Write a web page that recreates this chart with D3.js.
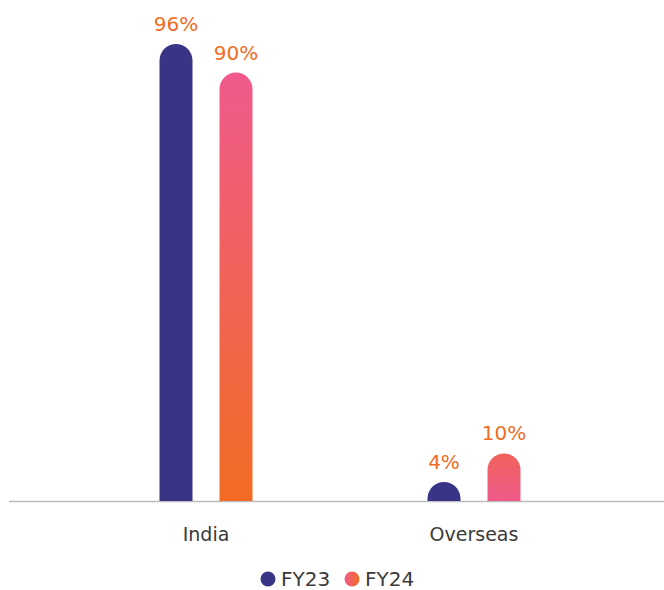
<!DOCTYPE html>
<html>
<head>
<meta charset="utf-8">
<script src="https://cdn.jsdelivr.net/npm/d3@7"></script>
<style>
  body { margin: 0; background: #fff; }
  text { font-family: "DejaVu Sans", sans-serif; }
</style>
</head>
<body>
<div id="chart"></div>
<script>
const categories = ["India", "Overseas"];
const seriesNames = ["FY23", "FY24"];
const fy23 = [96, 4];
const fy24 = [90, 10];

const width = 664, height = 590;
const baseY = 501;
const navy = "#3a3486";
const orange = "#f26b22";
const pink = "#f05a8c";

const svg = d3.select("#chart").append("svg")
    .attr("width", width)
    .attr("height", height);

const defs = svg.append("defs");
// vertical gradients for FY24 bars (one for each category)
const gradStops = [[pink, orange], ["#f0625a", pink]];
gradStops.forEach((s, i) => {
    const g = defs.append("linearGradient")
        .attr("id", "grad" + i)
        .attr("x1", 0).attr("y1", 0).attr("x2", 0).attr("y2", 1);
    g.append("stop").attr("offset", "0%").attr("stop-color", s[0]);
    g.append("stop").attr("offset", "100%").attr("stop-color", s[1]);
});
const lg = defs.append("linearGradient").attr("id", "gradLegend")
    .attr("x1", 0).attr("y1", 0).attr("x2", 1).attr("y2", 0);
lg.append("stop").attr("offset", "0%").attr("stop-color", pink);
lg.append("stop").attr("offset", "100%").attr("stop-color", orange);

const x = d3.scaleBand().domain(categories).range([72, 608]);
const xSub = d3.scalePoint().domain(seriesNames).range([-30, 30]);
const y = d3.scaleLinear().domain([0, 100]).range([baseY, baseY - 476]);

const barW = 33;
const r = barW / 2;

// rounded-top bar path
function barPath(cx, top) {
    const x0 = cx - r, x1 = cx + r;
    const h = baseY - top;
    if (h <= r) {
        return `M${x0},${baseY} A${r},${r} 0 0 1 ${x1},${baseY} Z`;
    }
    return `M${x0},${baseY} L${x0},${top + r} A${r},${r} 0 0 1 ${x1},${top + r} L${x1},${baseY} Z`;
}

const rows = [];
categories.forEach((c, i) => {
    rows.push({cat: c, i: i, s: "FY23", v: fy23[i]});
    rows.push({cat: c, i: i, s: "FY24", v: fy24[i]});
});

// axis line
svg.append("line")
    .attr("x1", 9).attr("x2", 664)
    .attr("y1", baseY + 0.5).attr("y2", baseY + 0.5)
    .attr("stroke", "#bdbdbd")
    .attr("stroke-width", 1.5);

svg.selectAll(".bar")
    .data(rows)
    .enter()
    .append("path")
    .attr("class", "bar")
    .attr("d", d => barPath(x(d.cat) + x.bandwidth() / 2 + xSub(d.s), y(d.v)))
    .attr("fill", d => d.s === "FY23" ? navy : `url(#grad${d.i})`);

svg.selectAll(".value-label")
    .data(rows)
    .enter()
    .append("text")
    .attr("class", "value-label")
    .attr("x", d => x(d.cat) + x.bandwidth() / 2 + xSub(d.s))
    .attr("y", d => Math.min(y(d.v), baseY - r) - 13)
    .attr("text-anchor", "middle")
    .style("font-size", "20px")
    .style("fill", orange)
    .text(d => d.v + "%");

svg.selectAll(".cat-label")
    .data(categories)
    .enter()
    .append("text")
    .attr("class", "cat-label")
    .attr("x", d => x(d) + x.bandwidth() / 2)
    .attr("y", 541)
    .attr("text-anchor", "middle")
    .style("font-size", "19px")
    .style("fill", "#3a3a3a")
    .text(d => d);

// legend
const legend = svg.append("g").attr("transform", "translate(268,579)");
const legX = [0, 84];
seriesNames.forEach((s, i) => {
    legend.append("circle")
        .attr("cx", legX[i]).attr("cy", 0).attr("r", 7.5)
        .attr("fill", i === 0 ? navy : "url(#gradLegend)");
    legend.append("text")
        .attr("x", legX[i] + 13).attr("y", 7)
        .style("font-size", "20px")
        .style("fill", "#3a3a3a")
        .text(s);
});
</script>
</body>
</html>
